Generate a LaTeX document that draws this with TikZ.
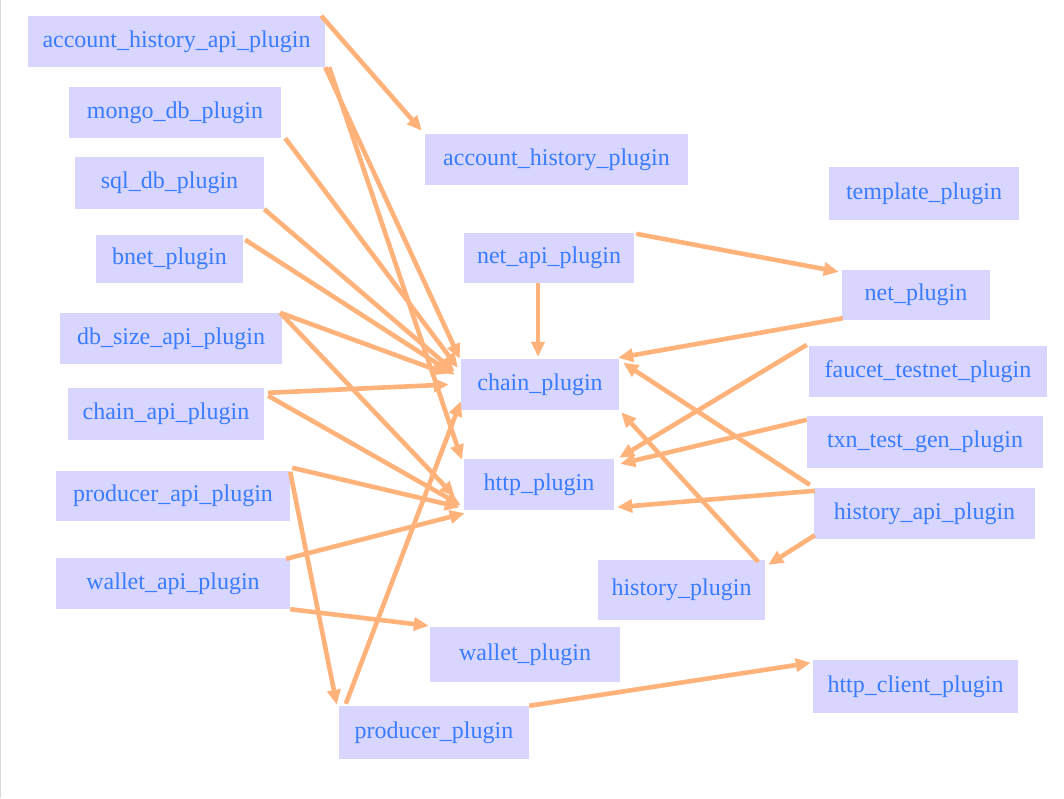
\documentclass[tikz,border=0pt]{standalone}
\usepackage{fontspec}
\setmainfont{Liberation Serif}
\usetikzlibrary{arrows.meta, positioning}

\definecolor{plugfill}{RGB}{216,214,254}
\definecolor{plugtext}{RGB}{58,124,255}
\definecolor{depline}{RGB}{255,178,122}

\begin{document}
\begin{tikzpicture}[x=1pt, y=-1pt,
    plug/.style={fill=plugfill, text=plugtext, inner sep=0pt, minimum height=51pt,
        font=\fontsize{24}{28}\selectfont},
    dep/.style={draw=depline, line width=4.6pt, -{Triangle[length=15pt,width=13pt]}}]
    \useasboundingbox (0,0) rectangle (1064,798);
    \draw[gray!30, line width=1pt] (0.5,0) -- (0.5,798);

    % Left column
    \node[plug, minimum width=297pt] (ahapi) at (176.5,41.5) {account\_history\_api\_plugin};
    \node[plug, minimum width=212pt] (mongo) at (175,112.5) {mongo\_db\_plugin};
    \node[plug, minimum width=189pt, minimum height=52pt] (sqldb) at (169.5,183) {sql\_db\_plugin};
    \node[plug, minimum width=147pt, minimum height=48pt] (bnet) at (169.5,259) {bnet\_plugin};
    \node[plug, minimum width=222pt] (dbsize) at (171,338.5) {db\_size\_api\_plugin};
    \node[plug, minimum width=196pt, minimum height=52pt] (capi) at (166,414) {chain\_api\_plugin};
    \node[plug, minimum width=234pt, minimum height=50pt] (papi) at (173,496) {producer\_api\_plugin};
    \node[plug, minimum width=234pt] (wapi) at (173,583.5) {wallet\_api\_plugin};

    % Middle column
    \node[plug, minimum width=263pt] (ahp) at (556.5,159.5) {account\_history\_plugin};
    \node[plug, minimum width=170pt, minimum height=50pt] (netapi) at (549,258) {net\_api\_plugin};
    \node[plug, minimum width=158pt] (chain) at (540,384.5) {chain\_plugin};
    \node[plug, minimum width=150pt] (http) at (539,484.5) {http\_plugin};
    \node[plug, minimum width=190pt, minimum height=55pt] (wp) at (525,654.5) {wallet\_plugin};
    \node[plug, minimum width=190pt, minimum height=53pt] (pp) at (434,732.5) {producer\_plugin};

    % Right column
    \node[plug, minimum width=190pt, minimum height=53pt] (tmpl) at (924,193.5) {template\_plugin};
    \node[plug, minimum width=148pt, minimum height=50pt] (net) at (916,295) {net\_plugin};
    \node[plug, minimum width=238pt] (faucet) at (928,371.5) {faucet\_testnet\_plugin};
    \node[plug, minimum width=236pt, minimum height=52pt] (txn) at (925,442) {txn\_test\_gen\_plugin};
    \node[plug, minimum width=221pt] (hapi) at (924.5,513.5) {history\_api\_plugin};
    \node[plug, minimum width=167pt, minimum height=60pt] (hp) at (681.5,590) {history\_plugin};
    \node[plug, minimum width=205pt, minimum height=53pt] (hcp) at (915.5,686.5) {http\_client\_plugin};

    % Dependencies from the left
    \draw[dep] ([xshift=-4pt]ahapi.north east) -- ([xshift=-3pt,yshift=3pt]ahp.north west);
    \draw[dep] (ahapi.south east) -- ([xshift=-1pt]chain.north west);
    \draw[dep] ([xshift=4pt]ahapi.south east) -- ([xshift=-2pt,yshift=-1pt]http.north west);
    \draw[dep] ([xshift=4pt]mongo.south east) -- ([xshift=-3pt,yshift=-9pt]chain.north west);
    \draw[dep] (sqldb.south east) -- ([xshift=-6pt,yshift=-13pt]chain.north west);
    \draw[dep] ([xshift=2pt,yshift=-5pt]bnet.north east) -- ([xshift=-6pt,yshift=-16pt]chain.north west);
    \draw[dep] ([xshift=-2pt]dbsize.north east) -- ([xshift=-14pt,yshift=-15pt]chain.north west);
    \draw[dep] ([xshift=-2pt]dbsize.north east) -- ([xshift=-9pt,yshift=-12pt]http.west);
    \draw[dep] ([xshift=4pt,yshift=-5pt]capi.north east) -- ([xshift=-12pt]chain.west);
    \draw[dep] ([xshift=4pt,yshift=-8pt]capi.north east) -- ([xshift=-3pt,yshift=5pt]http.south west);
    \draw[dep] ([xshift=2pt,yshift=3pt]papi.north east) -- ([xshift=-4pt,yshift=3pt]http.south west);
    \draw[dep] ([yshift=-1pt]papi.north east) -- ([xshift=-2pt,yshift=1pt]pp.north west);
    \draw[dep] ([xshift=-4pt,yshift=-1pt]wapi.north east) -- ([xshift=1pt,yshift=-3pt]http.south west);
    \draw[dep] (wapi.south east) -- ([xshift=-1pt,yshift=1pt]wp.north west);
    \draw[dep] ([xshift=7pt,yshift=2pt]pp.north west) -- ([yshift=9pt]chain.south west);
    \draw[dep] (pp.north east) -- ([xshift=-2pt,yshift=-3pt]hcp.north west);

    % Dependencies from the right
    \draw[dep] ([xshift=-11pt]netapi.south) -- ([xshift=-2pt,yshift=2pt]chain.north);
    \draw[dep] ([xshift=2pt,yshift=-1pt]netapi.north east) -- ([xshift=-3pt,yshift=-2pt]net.north west);
    \draw[dep] ([xshift=1pt,yshift=2pt]net.south west) -- ([xshift=-1pt,yshift=1pt]chain.north east);
    \draw[dep] ([xshift=-2pt,yshift=1pt]faucet.north west) -- ([xshift=5pt,yshift=1pt]http.north east);
    \draw[dep] ([yshift=-4pt]txn.north west) -- ([xshift=6pt,yshift=-5pt]http.north east);
    \draw[dep] ([xshift=-4pt,yshift=3pt]hapi.north west) -- ([xshift=4pt,yshift=-4pt]chain.north east);
    \draw[dep] ([xshift=1pt,yshift=-3pt]hapi.north west) -- ([xshift=3pt,yshift=3pt]http.south east);
    \draw[dep] ([xshift=1pt,yshift=4pt]hapi.south west) -- ([xshift=3pt,yshift=-5pt]hp.north east);
    \draw[dep] ([xshift=-7pt,yshift=-2pt]hp.north east) -- ([xshift=2pt,yshift=-2pt]chain.south east);
\end{tikzpicture}
\end{document}
